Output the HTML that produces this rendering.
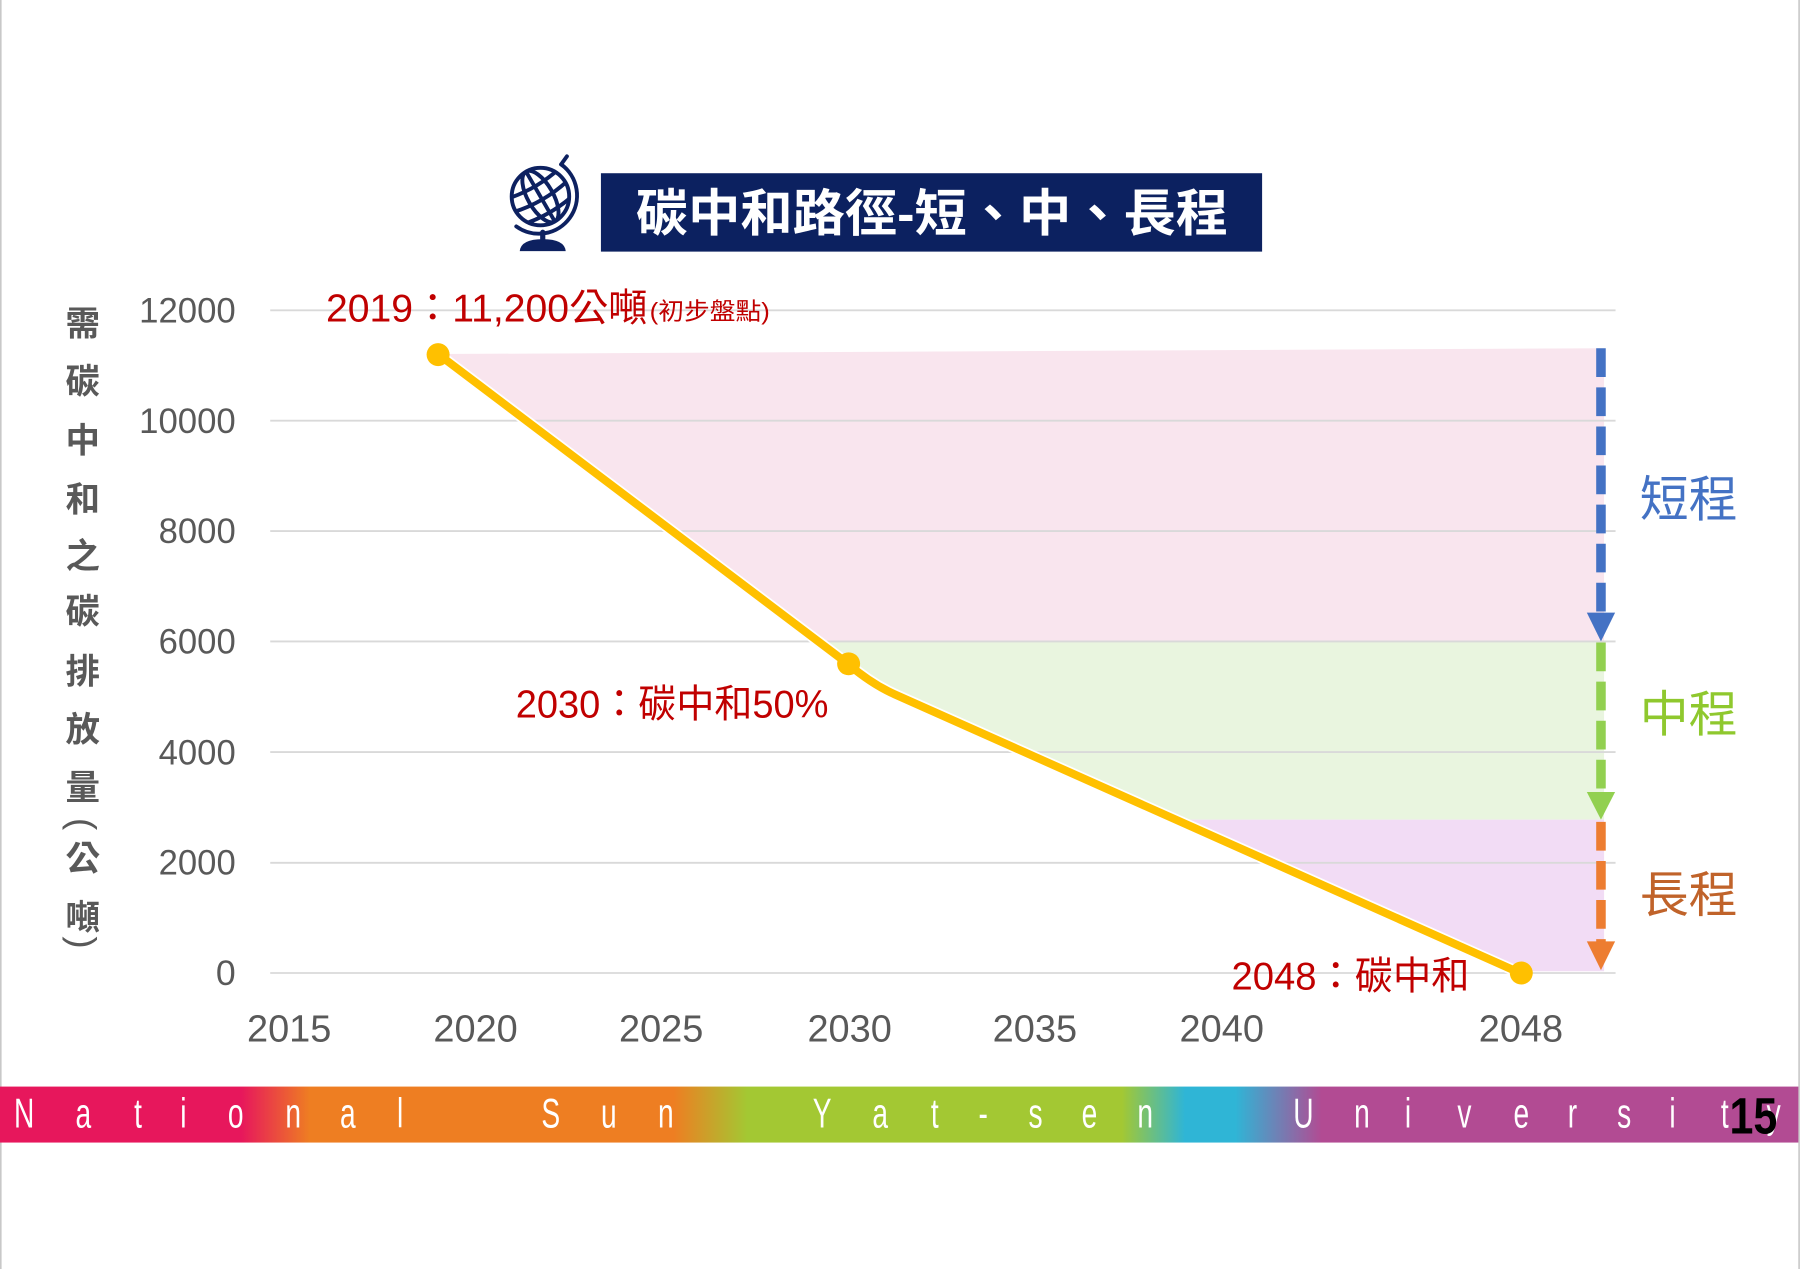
<!DOCTYPE html>
<html><head><meta charset="utf-8"><style>
html,body{margin:0;padding:0;background:#fff;}
svg{display:block;}
</style></head><body>
<svg width="1803" height="1269" viewBox="0 0 1568 1104" preserveAspectRatio="none" xmlns="http://www.w3.org/2000/svg">
<defs>
<linearGradient id="band" x1="0" y1="0" x2="1566" y2="0" gradientUnits="userSpaceOnUse">
<stop offset="0" stop-color="#e7175c"/>
<stop offset="0.134" stop-color="#e7175c"/>
<stop offset="0.172" stop-color="#ee7e22"/>
<stop offset="0.374" stop-color="#ee7e22"/>
<stop offset="0.415" stop-color="#a3c833"/>
<stop offset="0.623" stop-color="#a3c833"/>
<stop offset="0.658" stop-color="#2fb5d6"/>
<stop offset="0.686" stop-color="#2fb5d6"/>
<stop offset="0.734" stop-color="#b24b93"/>
<stop offset="1" stop-color="#b24b93"/>
</linearGradient>
<clipPath id="gc"><circle cx="470" cy="171" r="25"/></clipPath>
</defs>
<rect x="0" y="0" width="1568" height="1104" fill="#fff"/>
<line x1="0.7" y1="0" x2="0.7" y2="1104" stroke="#c8c8c8" stroke-width="1.4"/>
<line x1="1564.6" y1="0" x2="1564.6" y2="1104" stroke="#c8c8c8" stroke-width="1.4"/>

<!-- Globe icon -->
<g stroke="#0d2160" fill="none" stroke-width="3.4" stroke-linecap="round">
<circle cx="470" cy="171" r="25"/>
<g clip-path="url(#gc)" transform="rotate(-30 470 171)">
<ellipse cx="470" cy="171" rx="11" ry="25"/>
<line x1="470" y1="144" x2="470" y2="198"/>
<path d="M443,158 Q470,164 497,158"/>
<path d="M443,171 Q470,177 497,171"/>
<path d="M443,184 Q470,190 497,184"/>
</g>
<path d="M488,143 A33,33 0 1 1 449,197"/>
<line x1="488" y1="143" x2="493" y2="136"/>
<line x1="472" y1="202" x2="472" y2="212" stroke-width="4.5"/>
</g>
<path d="M452,218.5 Q453,208 472,208 Q491,208 492,218.5 Z" fill="#0d2160"/>

<!-- Title box -->
<rect x="522.6" y="150.7" width="575" height="68.2" fill="#0c2160"/>
<text x="553" y="201" fill="#fff" font-family="'Liberation Sans','Noto Sans CJK TC',sans-serif" font-size="44" font-weight="bold" textLength="515" lengthAdjust="spacingAndGlyphs">碳中和路徑-短、中、長程</text>

<!-- Fills -->
<polygon points="381,308 1395,303 1395,558 711.6,558" fill="#f9e5ee"/>
<polygon points="711.6,558 1395,558 1395,713 1022.5,713 778,604 738,578" fill="#e9f5df"/>
<polygon points="1022.5,713 1395,713 1395,845 1323,845" fill="#f2dcf5"/>

<!-- Gridlines -->
<g stroke="#d9d9d9" stroke-width="1.6">
<line x1="235" y1="270" x2="1405" y2="270"/>
<line x1="235" y1="366" x2="1405" y2="366"/>
<line x1="235" y1="462" x2="1405" y2="462"/>
<line x1="235" y1="558" x2="1405" y2="558"/>
<line x1="235" y1="654.3" x2="1405" y2="654.3"/>
<line x1="235" y1="750.6" x2="1405" y2="750.6"/>
<line x1="235" y1="846.5" x2="1405" y2="846.5"/>
</g>

<!-- Y tick labels -->
<g font-family="'Liberation Sans',sans-serif" font-size="31" fill="#595959" text-anchor="end">
<text x="205" y="280.5" textLength="84" lengthAdjust="spacingAndGlyphs">12000</text>
<text x="205" y="376.5" textLength="84" lengthAdjust="spacingAndGlyphs">10000</text>
<text x="205" y="472.5" textLength="67" lengthAdjust="spacingAndGlyphs">8000</text>
<text x="205" y="568.5" textLength="67" lengthAdjust="spacingAndGlyphs">6000</text>
<text x="205" y="665" textLength="67" lengthAdjust="spacingAndGlyphs">4000</text>
<text x="205" y="761" textLength="67" lengthAdjust="spacingAndGlyphs">2000</text>
<text x="205" y="857">0</text>
</g>

<!-- X tick labels -->
<g font-family="'Liberation Sans',sans-serif" font-size="33" fill="#595959" text-anchor="middle">
<text x="251.5" y="906">2015</text>
<text x="413.6" y="906">2020</text>
<text x="575" y="906">2025</text>
<text x="738.9" y="906">2030</text>
<text x="900" y="906">2035</text>
<text x="1062.5" y="906">2040</text>
<text x="1322.7" y="906">2048</text>
</g>

<!-- Y axis title -->
<g font-family="'Liberation Sans','Noto Sans CJK TC',sans-serif" font-size="30" font-weight="bold" fill="#595959" text-anchor="middle">
<text x="72" y="292">需</text>
<text x="72" y="342.5">碳</text>
<text x="72" y="393.5">中</text>
<text x="72" y="445">和</text>
<text x="72" y="494">之</text>
<text x="72" y="542.5">碳</text>
<text x="72" y="594.5">排</text>
<text x="72" y="645">放</text>
<text x="72" y="695.5">量</text>
<text x="72" y="757.5">公</text>
<text x="72" y="808.5">噸</text>
</g>
<g font-family="'Liberation Sans',sans-serif" font-size="32" fill="#595959" text-anchor="middle">
<text transform="translate(69,717) rotate(90)" x="0" y="8">(</text>
<text transform="translate(69,820) rotate(90)" x="0" y="8">)</text>
</g>

<!-- Arrows -->
<g stroke-width="8.3" fill="none">
<line x1="1392.3" y1="303" x2="1392.3" y2="534" stroke="#4472c4" stroke-dasharray="25,9"/>
<line x1="1392.3" y1="559" x2="1392.3" y2="690" stroke="#92d050" stroke-dasharray="25,9"/>
<line x1="1392.3" y1="715" x2="1392.3" y2="820" stroke="#ed7d31" stroke-dasharray="25,9"/>
</g>
<polygon points="1380,533 1404.6,533 1392.3,558" fill="#4472c4"/>
<polygon points="1380,689 1404.6,689 1392.3,713" fill="#92d050"/>
<polygon points="1380,819 1404.6,819 1392.3,844" fill="#ed7d31"/>

<!-- Range labels -->
<g font-family="'Liberation Sans','Noto Sans CJK TC',sans-serif" font-size="43">
<text x="1426" y="449.3" fill="#4472c4" textLength="85" lengthAdjust="spacingAndGlyphs">短程</text>
<text x="1426" y="636.3" fill="#8fc82e" textLength="85" lengthAdjust="spacingAndGlyphs">中程</text>
<text x="1426" y="793.3" fill="#c0632a" textLength="85" lengthAdjust="spacingAndGlyphs">長程</text>
</g>

<!-- Series line -->
<path d="M381,308 L738,578 Q758,595 778,604 L1323,847" fill="none" stroke="#ffffff" stroke-width="10" stroke-linejoin="round"/>
<path d="M381,308 L738,578 Q758,595 778,604 L1323,847" fill="none" stroke="#ffc000" stroke-width="7" stroke-linejoin="round"/>
<circle cx="381" cy="308.5" r="10" fill="#ffc000"/>
<circle cx="738" cy="577.5" r="10" fill="#ffc000"/>
<circle cx="1323" cy="846.5" r="10" fill="#ffc000"/>

<!-- Annotations -->
<g font-family="'Liberation Sans','Noto Sans CJK TC',sans-serif" fill="#c00000">
<text x="283.5" y="279.8" font-size="34" textLength="279.5" lengthAdjust="spacingAndGlyphs">2019：11,200公噸</text>
<text x="565" y="278" font-size="21" textLength="104.5" lengthAdjust="spacingAndGlyphs">(初步盤點)</text>
<text x="448.5" y="624" font-size="34" textLength="272" lengthAdjust="spacingAndGlyphs">2030：碳中和50%</text>
<text x="1071" y="861" font-size="34" textLength="207" lengthAdjust="spacingAndGlyphs">2048：碳中和</text>
</g>

<!-- Bottom band -->
<rect x="0" y="945.3" width="1564" height="48.7" fill="url(#band)"/>
<g font-family="'Liberation Sans',sans-serif" font-size="36" fill="#ffffff" text-anchor="middle" transform="scale(0.68,1)">
<text x="30.9 106.6 176.5 234.6 301.5 375 444.9 511.8" y="981">National</text>
<text x="704.4 778.7 851.5" y="981">Sun</text>
<text x="1051.5 1125.7 1195.6 1257.4 1324.3 1393.4 1464.7" y="981">Yat-sen</text>
<text x="1666.9 1741.9 1800.7 1872.8 1945.6 2011 2077.2 2139 2205.9 2268.4" y="981">University</text>
</g>
<text transform="scale(0.85,1)" x="1794" y="986" font-family="'Liberation Sans',sans-serif" font-size="44" font-weight="bold" fill="#000" text-anchor="middle">15</text>
</svg>
</body></html>
